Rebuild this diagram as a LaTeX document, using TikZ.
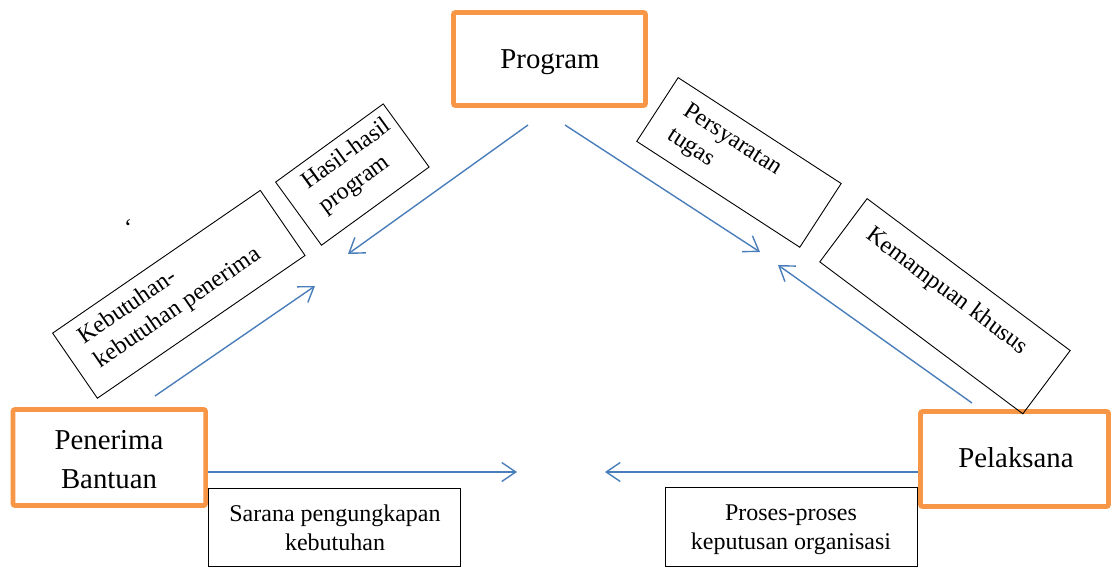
\documentclass[tikz,border=0pt]{standalone}
\usepackage{fontspec}
\setmainfont{Liberation Serif}
\usetikzlibrary{arrows.meta,calc}
\definecolor{orangebox}{HTML}{F79646}
\definecolor{arrowblue}{HTML}{4A7EBB}
\begin{document}
\begin{tikzpicture}[x=1pt,y=-1pt,
  obox/.style={draw=orangebox, line width=4.7pt, rounded corners=2pt, inner sep=0pt},
  kbox/.style={draw=black, line width=0.9pt, inner sep=0pt},
  bigtext/.style={font=\fontsize{28.8}{39}\selectfont, inner sep=0pt, align=center},
  lbltext/.style={font=\fontsize{24}{29}\selectfont, inner sep=0pt},
  conn/.style={draw=arrowblue, line width=1.4pt, -{Straight Barb[length=14pt, width=19pt]}}
]
\useasboundingbox (0,0) rectangle (1111,568);
\fill[white] (0,0) rectangle (1111,568);

% main boxes (base anchor = baseline of the last line)
\node[obox, minimum width=192pt, minimum height=93pt] (prog) at (549.5,59) {};
\node[bigtext, anchor=base] (progtext) at (550,68) {Program};
\node[obox, minimum width=192.6pt, minimum height=96pt] (pen) at (109.3,457.5) {};
\node[bigtext, anchor=base] (pentext) at (109,488) {Penerima\\Bantuan};
\node[obox, minimum width=188pt, minimum height=95pt] (pel) at (1014.5,459) {};
\node[bigtext, anchor=base] (peltext) at (1016,467) {Pelaksana};

% bottom label boxes
\node[kbox, minimum width=251.5pt, minimum height=78pt] (sarbox) at (334.25,527.5) {};
\node[lbltext, align=center, anchor=base] (sartext) at (335,550) {Sarana pengungkapan\\kebutuhan};
\node[kbox, minimum width=252pt, minimum height=79pt] (probox) at (791.5,527) {};
\node[lbltext, align=center, anchor=base] (protext) at (791,549) {Proses-proses\\keputusan organisasi};

% rotated label boxes
\begin{scope}[shift={(52,333)}, rotate=34.5, transform shape]
  \node[kbox, minimum width=252pt, minimum height=79pt, anchor=north west] (kebbox) at (0,0) {};
  \node[lbltext, align=left, anchor=base west] (kebtext) at (20,57) {Kebutuhan-\\kebutuhan penerima};
\end{scope}
\begin{scope}[shift={(275,182)}, rotate=36, transform shape]
  \node[kbox, minimum width=133pt, minimum height=78pt, anchor=north west] (hasbox) at (0,0) {};
  \node[lbltext, align=left, anchor=base west] (hastext) at (22,55) {Hasil-hasil\\program};
\end{scope}
\begin{scope}[shift={(678,77)}, rotate=-33, transform shape]
  \node[kbox, minimum width=194.4pt, minimum height=76pt, anchor=north west] (perbox) at (0,0) {};
  \node[lbltext, align=left, anchor=base west] (pertext) at (24,58) {Persyaratan\\tugas};
\end{scope}
\begin{scope}[shift={(867,198)}, rotate=-36.8, transform shape]
  \node[kbox, minimum width=253.6pt, minimum height=79pt, anchor=north west] (kembox) at (0,0) {};
  \node[lbltext, align=left, anchor=base west] (kemtext) at (22,33) {Kemampuan khusus};
\end{scope}

% stray mark
\node[lbltext, anchor=base] (tick) at (128,235) {\char"60};

% connectors
\coordinate (a1s) at (528,125);
\coordinate (a1e) at (348,254);
\coordinate (a2s) at (565,125);
\coordinate (a2e) at (760,252);
\coordinate (a3s) at (155,396);
\coordinate (a3e) at (315,286);
\coordinate (a4s) at (972,403);
\coordinate (a4e) at (778,265);
\coordinate (a5e) at (517,472);
\coordinate (a6e) at (605,472);
\draw[conn] (a1s) -- (a1e);
\draw[conn] (a2s) -- (a2e);
\draw[conn] (a3s) -- (a3e);
\draw[conn] (a4s) -- (a4e);
\draw[conn] (pen.east |- a5e) -- (a5e);
\draw[conn] (pel.west |- a6e) -- (a6e);
\end{tikzpicture}
\end{document}
